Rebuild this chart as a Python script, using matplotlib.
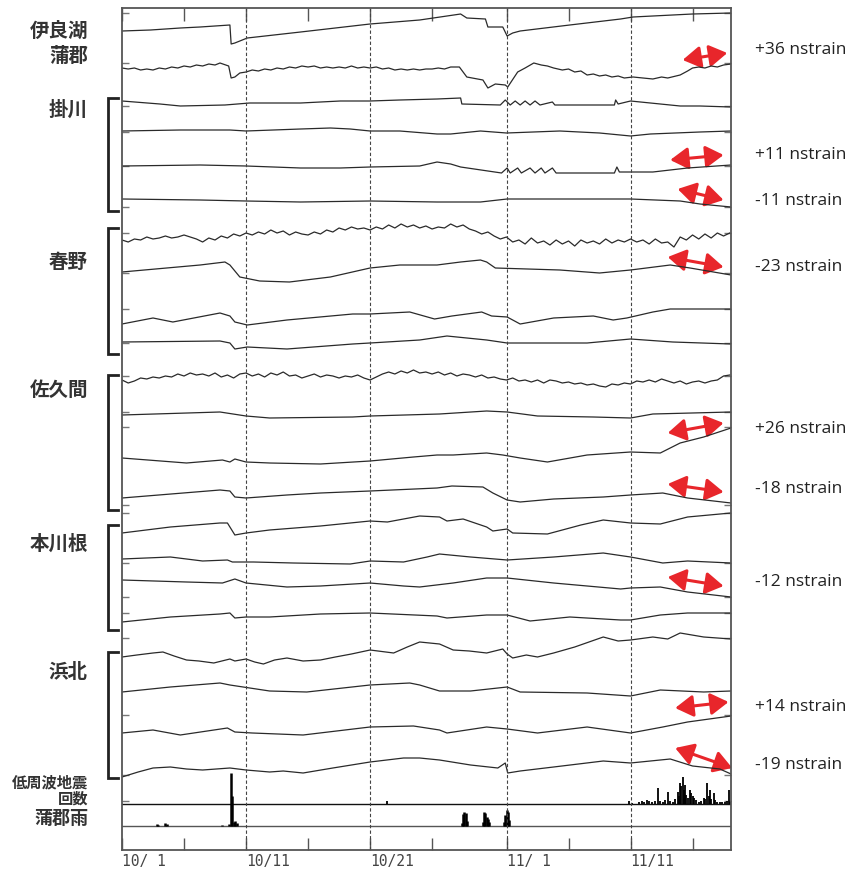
import matplotlib.pyplot as plt
import numpy as np
from matplotlib.patches import FancyArrowPatch

plt.rcParams['font.family'] = ['Noto Sans CJK JP', 'DejaVu Sans']

### strain traces: (day since 10/1, offset up) ###
irago = [(0, 0), (2.3, 1), (4.7, 3), (6.3, 4), (8.7, 6), (8.8, -13), (9.1, -12), (10.1, -7),
         (14.4, -1), (20, 7), (24, 11), (27.3, 17), (27.8, 13), (29.3, 12), (29.5, 4), (30.7, 4),
         (31.05, -5), (31.5, -2), (32.1, 0), (36.1, 6), (40.2, 12), (41.2, 14), (46, 17), (49.1, 18)]
gamagori = [(0, 0), (0.5, -1), (1, 0), (1.5, -2), (2, -1), (2.5, -2), (3, 0), (3.5, -1), (4, 1),
            (4.5, 0), (5, 2), (5.5, 1), (6, 3), (6.5, 2), (7, 4), (7.5, 3), (7.9, 5), (8.6, 2),
            (8.8, -10), (9.1, -9), (9.5, -5), (10, -4), (10.5, -2), (11, -3), (11.5, -1), (12, -2),
            (12.5, 0), (13, -1), (13.5, 1), (14, 0), (14.5, 2), (15, 1), (15.5, 2), (16, 0),
            (16.5, 1), (17, 0), (17.5, 1), (18, 0), (18.5, 2), (19, 0), (19.5, 1), (20, 0),
            (20.5, 1), (21, -1), (21.5, 0), (22, -2), (22.5, -1), (23, -2), (23.5, -1), (24, -2),
            (24.5, -1), (25, -1), (25.5, 0), (26, -1), (26.5, 1), (27.2, 1), (27.8, -9),
            (29.1, -12), (29.5, -20), (30.1, -16), (30.9, -17), (31.1, -19), (31.9, -4), (32.5, 0),
            (33.2, 5), (33.8, 3), (34.3, 2), (34.8, 0), (35.5, -2), (36, -1), (36.5, -4), (37, -3),
            (37.5, -7), (38, -6), (38.5, -8), (39, -7), (39.5, -9), (40, -8), (40.5, -10),
            (41.2, -9), (42, -10), (42.8, -11), (43.5, -9), (44, -10), (45, -7), (45.6, -3),
            (46, 0), (46.5, 1), (47, 0), (47.5, 2), (48, 1), (48.5, 3), (49.1, 4)]
kakegawa1 = [(0, 0), (3.06, -3), (4.7, -5), (8.3, -4), (10.3, -2), (14.4, -2), (17.6, 0), (20, 0),
             (22.4, 1), (25.4, 2), (27.3, 3), (27.4, -3), (30.5, -4), (30.9, 1), (31.3, -4),
             (31.7, 0), (32.1, -4), (32.5, 0), (32.9, -4), (33.3, 0), (33.7, -4), (34.7, -1),
             (34.9, -4), (38.5, -4), (39.7, -4), (39.8, 1), (40, -3), (41, 0), (43.4, -3),
             (45, -5), (46.6, -5), (49.1, -6)]
kakegawa2 = [(0, 0), (4.7, 1), (8.7, 1), (10, 0), (14.4, 2), (16.8, 3), (18.4, 2), (20, 0),
             (22.4, 0), (25.4, -3), (26.5, -3), (28.9, 0), (31, -2), (35.3, 0), (38.5, -2),
             (41, -5), (42.6, -3), (46.6, -1), (49.1, 0)]
kakegawa3 = [(0, 0), (6.3, 1), (10, 0), (14.4, -2), (17.6, -2), (20, -1), (24, 0), (25.4, 4),
             (26.5, 2), (27.3, -1), (30.6, -7), (31.05, -2), (31.3, -7), (31.9, -2), (32.2, -7),
             (32.9, -2), (33.3, -7), (33.8, -2), (34.1, -7), (34.7, -2), (35, -7), (36.5, -7),
             (39.7, -7), (39.9, -1), (40.1, -6), (42.8, -6), (45.6, -2), (49.1, 1)]
kakegawa4 = [(0, 0), (6.3, -1), (10, -2), (14.4, -3), (20, -2), (25.4, -3), (28.9, -3),
             (31.05, 0), (35.3, 0), (41, 0), (45, -2), (46.6, -5), (49.1, -8)]
haruno1 = [0, -2, 1, 0, 3, 1, 2, 4, 2, 3, 5, 3, 1, -2, 2, 0, 4, 2, 6, 4, 7, 5, 8, 6, 10, 7, 9, 5,
           8, 6, 5, 8, 6, 10, 8, 12, 10, 13, 11, 12, 10, 13, 11, 15, 12, 16, 13, 15, 12, 14, 11,
           13, 12, 16, 13, 15, 11, 9, 6, 8, 4, 1, 3, -2, 0, -4, 2, -3, -1, -5, 0, -4, -1, -6, 0,
           -3, -1, -4, 1, -3, 0, -2, 1, -2, 0, -4, 1, -3, -2, -7, 3, 0, 5, 1, 6, 2, 7, 4, 7]
haruno2 = [(0, 0), (6.3, 7), (8.3, 10), (8.7, 7), (9.5, -5), (11.1, -9), (13.5, -10), (16.8, -5),
           (20, 4), (22.4, 7), (25.4, 7), (27.3, 10), (28.9, 12), (29.4, 10), (30.1, 4),
           (35.3, 2), (38.5, -1), (41, 2), (44.2, 7), (45.8, 4), (49.1, -3)]
haruno3 = [(0, 0), (2.5, 6), (4.1, 2), (7.9, 11), (8.7, 8), (9.1, 2), (10.1, -1), (13.3, 4),
           (18.6, 10), (20, 10), (23.2, 12), (25.2, 5), (26.6, 8), (29, 12), (29.8, 8),
           (31.05, 7), (32.1, 0), (34.8, 6), (38, 8), (39.6, 4), (40.7, 6), (42.8, 12), (44.2, 15),
           (49.1, 15)]
haruno4 = [(0, 0), (7.9, 1), (8.7, -1), (9.1, -7), (10.1, -5), (13.3, -7), (18.6, -2), (20, -1),
           (24, 2), (26.2, 6), (29.4, 2), (31.05, -1), (37.5, -1), (41, 3), (44.4, 0), (49.1, -2)]
sakuma1 = [0, -3, -1, 2, 1, 3, 2, 4, 3, 6, 4, 7, 5, 6, 4, 7, 3, 5, 2, 6, 7, 4, 6, 3, 7, 5, 8, 4,
           5, 2, 4, 6, 3, 5, 4, 2, 4, 3, 5, 2, 0, 3, 6, 8, 6, 9, 7, 10, 7, 8, 6, 8, 5, 7, 4, 6, 5,
           3, 5, 2, 3, 1, 0, 2, -1, 0, -2, 0, -3, 0, -1, -3, -2, -4, -3, -5, -4, -6, -7, -4, -5,
           -3, -4, -1, -2, 0, -2, 1, -1, -3, -1, -4, -2, -1, -3, -1, 0, 4, 5]
sakuma2 = [(0, 0), (7.9, 3), (10, -1), (11.9, -3), (18.6, -2), (20, -1), (25.6, 1), (29.4, 4),
           (31.05, 3), (33.5, -1), (38, -2), (41, -3), (42.8, 1), (49.1, 3)]
sakuma3 = [(0, 0), (5.2, -5), (8.1, -2), (8.7, -4), (9.1, -1), (10, -4), (11.9, -5), (16, -6),
           (20, -3), (23.5, 1), (25.4, 3), (26.7, 3), (29.4, 5), (30.7, 3), (32.1, 0),
           (34.3, -4), (37.5, 3), (41, 6), (43.4, 5), (45, 15), (46.9, 21), (49.1, 30)]
sakuma4 = [(0, 0), (7.9, 8), (8.7, 7), (9.1, 1), (10, 0), (13.3, 3), (16, 5), (20, 7),
           (25.4, 10), (26.6, 12), (29.1, 11), (29.9, 5), (31.05, -2), (32.1, -4), (34.8, -1),
           (38.8, 1), (41, 3), (43.6, 5), (45.6, 0), (49.1, -5)]
honkawane1 = [(0, 0), (3.9, 6), (7.9, 10), (8.5, 10), (8.7, 6), (9.1, -2), (10, 0), (11.9, 3),
              (16, 7), (20, 12), (21.4, 11), (24, 17), (25.6, 16), (26.2, 12), (27.5, 14),
              (29.4, 6), (29.9, 2), (31.05, 4), (31.5, 0), (34.3, -1), (37, 8), (38.8, 13),
              (41, 10), (43.4, 9), (45.6, 16), (49.1, 20)]
honkawane2 = [(0, 0), (3.9, 2), (6.5, -2), (8.5, -1), (8.9, -3), (10.6, -3), (13.8, -4),
              (18.4, -5), (20, -2), (22.7, -3), (24.6, 2), (25.6, 5), (28.1, 2), (31.05, -1),
              (34.8, 2), (38.8, 6), (41, 2), (43.6, -4), (45.6, -2), (49.1, -4)]
honkawane3 = [(0, 0), (5.2, -2), (8.1, -3), (9.1, 1), (10, -3), (13.3, -7), (16, -6), (20, -3),
              (22.7, -6), (24, -7), (26.7, -3), (29.4, 2), (31.05, 2), (34.8, -3), (40.2, -9),
              (41, -8), (43.4, -7), (45.6, -12), (49.1, -17)]
honkawane4 = [(0, -1), (3.9, 4), (7.9, 7), (8.7, 8), (9.1, 3), (10, 4), (11.9, 4), (16, 7),
              (20, 8), (25.4, 5), (26.2, 3), (29.4, 6), (31.05, 6), (32.9, 0), (36.1, 4),
              (40.2, 1), (41, 1), (43.4, 6), (45.6, 8), (49.1, 8)]
hamakita1 = [(0, -1), (1.2, 1), (2.5, 3), (3.3, 4), (4.2, 0), (5.2, -4), (6.2, -5), (7.4, -7),
             (8.7, -3), (9.1, -5), (10, -3), (10.7, -6), (11.4, -8), (12.3, -4), (13.3, -2),
             (14.6, -5), (16, -4), (17.2, -1), (18.5, 2), (20, 6), (21.9, 3), (23, 9), (24, 14),
             (25.6, 12), (26.7, 6), (28, 5), (29.4, 3), (30.7, 7), (31.05, 2), (31.5, -2),
             (32.6, 1), (33.5, -1), (34.8, 3), (36.5, 9), (38.8, 19), (40, 15), (41, 16),
             (42.8, 19), (44, 17), (45, 23), (46.9, 19), (49.1, 17)]
hamakita2 = [(0, -1), (3.9, 4), (7.9, 8), (8.7, 6), (11.9, 0), (14.9, -1), (20, 6), (23.2, 8),
             (24, 6), (25.6, 0), (28.1, 0), (31.05, 4), (32.1, -1), (37.5, -2), (41, -5),
             (43.4, 1), (46.9, -1), (49.1, 0)]
hamakita3 = [(0, 0), (2.5, 3), (4.7, -2), (8.5, 5), (9.1, 1), (10.5, 0), (14.6, -2), (20, 6),
             (23.5, 7), (25.6, 3), (26.2, 0), (29.4, 6), (31.05, 4), (33.5, 0), (37.5, 6),
             (41, 0), (43.6, 6), (45.6, 11), (49.1, 17)]
hamakita4 = [(0, -2), (1.3, 3), (2.5, 7), (3.9, 8), (5.2, 6), (6.5, 5), (8.7, 7), (10, 5),
             (11.9, 3), (13, 4), (14.6, 2), (17, 7), (20, 13), (22.7, 17), (24, 17), (25.6, 15),
             (28.1, 10), (30.3, 7), (30.9, 12), (31.1, 2), (32.1, 4), (34.8, 8), (36.8, 11),
             (38.8, 14), (41, 12), (44.2, 16), (46, 9), (48.2, 6), (49.1, 1)]

traces = [irago, gamagori, kakegawa1, kakegawa2, kakegawa3, kakegawa4,
          haruno1, haruno2, haruno3, haruno4, sakuma1, sakuma2, sakuma3, sakuma4,
          honkawane1, honkawane2, honkawane3, honkawane4,
          hamakita1, hamakita2, hamakita3, hamakita4]
trace_base = [31, 68, 101, 131, 166, 199, 240, 272, 324, 342, 380, 415, 458, 498,
              533, 559, 580, 621, 656, 691, 733, 775]

### low frequency earthquake counts and Gamagori rain ###
lfe_day = [21.4, 40.9, 41.1, 41.7, 41.9, 42.1, 42.3, 42.5, 42.7, 43.0, 43.2, 43.4, 43.6, 43.8,
           44.0, 44.2, 44.4, 44.6, 44.8, 44.9, 45.0, 45.1, 45.2, 45.3, 45.4, 45.5, 45.6, 45.8,
           45.9, 46.0, 46.1, 46.3, 46.5, 46.7, 46.9, 47.0, 47.2, 47.3, 47.4, 47.5, 47.7, 47.8,
           48.0, 48.2, 48.4, 48.6, 48.8, 48.9, 49.0]
lfe_count = [3, 3, 1, 2, 3, 2, 4, 3, 2, 3, 16, 3, 2, 4, 12, 3, 2, 5, 12, 8, 21, 18, 27, 14, 19,
             9, 6, 14, 11, 8, 6, 4, 2, 3, 6, 5, 21, 8, 14, 5, 11, 4, 2, 2, 2, 2, 3, 14, 2]
rain_day = [2.8, 2.9, 3.5, 3.6, 8.1, 8.6, 8.75, 8.85, 9.0, 9.1, 9.3, 27.4, 27.5, 27.6, 27.7,
            27.8, 29.1, 29.2, 29.3, 29.4, 29.5, 29.6, 30.8, 30.9, 31.0, 31.1, 31.2]
rain_mm = [2, 1, 3, 2, 1, 2, 53, 30, 4, 5, 3, 3, 12, 14, 13, 5, 4, 14, 13, 9, 7, 4, 4, 11, 16,
           14, 6]

date_ticks = [0, 10, 20, 31, 41]
date_labels = ['10/ 1', '10/11', '10/21', '11/ 1', '11/11']
minor_days = [5, 15, 25, 36, 46]

station_names = ['伊良湖', '蒲郡', '掛川', '春野', '佐久間', '本川根', '浜北']
station_y = [31, 56, 110, 263, 390, 544, 672]
brackets = [(98, 211), (228, 354), (375, 510), (525, 630), (652, 778)]

ann_text = ['+36 nstrain', '+11 nstrain', '-11 nstrain', '-23 nstrain', '+26 nstrain',
            '-18 nstrain', '-12 nstrain', '+14 nstrain', '-19 nstrain']
ann_y = [50, 155, 201, 267, 429, 489, 582, 707, 765]
arrows = [(45.2, 60, 48.8, 53), (44.2, 160, 48.5, 155), (44.8, 189, 48.5, 200),
          (44.0, 257, 48.5, 267), (44.0, 433, 48.5, 423), (44.0, 484, 48.5, 492),
          (44.0, 577, 48.5, 586), (44.6, 708, 48.9, 702), (44.6, 748, 49.2, 768)]

side_ticks = [13, 63, 106, 132, 166, 207, 233, 273, 309, 343, 376, 412, 427, 505, 513,
              563, 597, 613, 638, 715, 775, 801]

W, H = 853, 875
fig = plt.figure(figsize=(W / 100, H / 100), dpi=100)
ax = fig.add_axes([122 / W, 1 - 850 / H, (731 - 122) / W, (850 - 8) / H])
ax.set_xlim(0, 49.1)
ax.set_ylim(850, 8)

for base, pts in zip(trace_base, traces):
    if isinstance(pts[0], tuple):
        d = [p[0] for p in pts]
        v = [p[1] for p in pts]
    else:
        d = np.arange(len(pts)) * 0.5
        v = pts
    ax.plot(d, base - np.array(v), color='#2a2a2a', lw=0.9)

# count / rain panels
ax.axhline(804, color='#111111', lw=1.0)
ax.axhline(826, color='#555555', lw=1.0)
ax.vlines(lfe_day, 804, 804 - np.array(lfe_count), color='black', lw=1.3)
ax.vlines(rain_day, 826, 826 - np.array(rain_mm), color='black', lw=1.8)

for d in date_ticks[1:]:
    ax.axvline(d, color='#444444', lw=0.8, ls=(0, (3, 2)))

ax.set_xticks(date_ticks)
ax.set_xticklabels(date_labels, ha='left', fontsize=10.5, color='#444444',
                   family=['DejaVu Sans Mono'])
ax.set_xticks(minor_days, minor=True)
ax.xaxis.set_ticks_position('both')
ax.tick_params(axis='x', which='both', direction='in', length=9, width=1, color='#555555', pad=3)
ax.set_yticks(side_ticks)
ax.set_yticklabels([])
ax.yaxis.set_ticks_position('both')
ax.tick_params(axis='y', direction='in', length=5, width=1, color='#777777')
for s in ax.spines.values():
    s.set_color('#555555')
    s.set_linewidth(1.3)

def fx(px):
    return px / W

def fy(py):
    return 1 - py / H

for name, y in zip(station_names, station_y):
    fig.text(fx(88), fy(y), name, ha='right', va='center', fontsize=14,
             fontweight='bold', color='#333333')
fig.text(fx(88), fy(782), '低周波地震', ha='right', va='center', fontsize=11,
         fontweight='bold', color='#333333')
fig.text(fx(88), fy(799), '回数', ha='right', va='center', fontsize=11,
         fontweight='bold', color='#333333')
fig.text(fx(88), fy(818), '蒲郡雨', ha='right', va='center', fontsize=13,
         fontweight='bold', color='#333333')

for y0, y1 in brackets:
    ax.plot([-0.3, -1.13, -1.13, -0.3], [y0, y0, y1, y1], color='#222222', lw=2,
            clip_on=False, solid_joinstyle='miter')

for t, y in zip(ann_text, ann_y):
    fig.text(fx(755), fy(y), t, ha='left', va='center', fontsize=12.5,
             family=['Open Sans', 'DejaVu Sans'], color='#222222')

for d0, y0, d1, y1 in arrows:
    ar = FancyArrowPatch((d0, y0), (d1, y1), arrowstyle='<|-|>,head_length=0.9,head_width=0.55',
                         mutation_scale=12, color='#e8262b', lw=2.2, clip_on=False,
                         shrinkA=0, shrinkB=0)
    ax.add_patch(ar)

fig.savefig('out.png', dpi=100)
